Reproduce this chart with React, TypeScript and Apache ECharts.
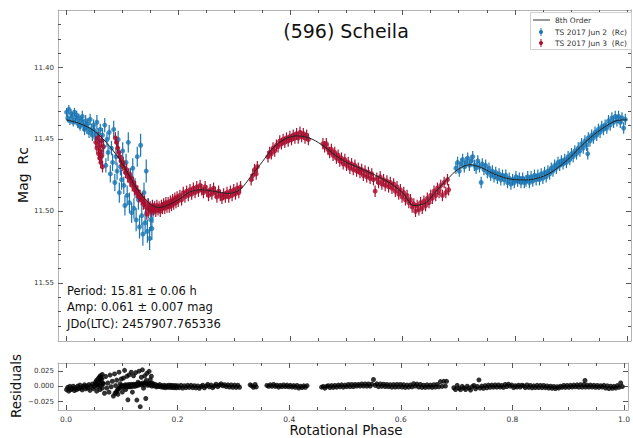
import React, { useEffect, useRef } from "react";
import * as echarts from "echarts";

// Light-curve observations: [rotational phase, magnitude Rc, error]
const jun2: number[][] = [
  [0.001, 11.431, 0.003], [0.003, 11.435, 0.003], [0.005, 11.429, 0.003], [0.007, 11.437, 0.003],
  [0.009, 11.432, 0.003], [0.011, 11.434, 0.003], [0.013, 11.438, 0.003], [0.015, 11.431, 0.003],
  [0.017, 11.436, 0.003], [0.019, 11.433, 0.003], [0.021, 11.439, 0.003], [0.023, 11.435, 0.003],
  [0.025, 11.441, 0.003], [0.027, 11.437, 0.003], [0.029, 11.434, 0.004], [0.031, 11.440, 0.004],
  [0.033, 11.443, 0.004], [0.035, 11.437, 0.004], [0.037, 11.442, 0.004], [0.039, 11.439, 0.004],
  [0.041, 11.445, 0.004], [0.043, 11.436, 0.004], [0.045, 11.443, 0.004], [0.047, 11.447, 0.004],
  [0.049, 11.440, 0.004], [0.051, 11.444, 0.004], [0.053, 11.449, 0.004], [0.055, 11.438, 0.005],
  [0.057, 11.446, 0.004], [0.059, 11.451, 0.005], [0.061, 11.443, 0.004], [0.063, 11.462, 0.005],
  [0.065, 11.447, 0.005], [0.067, 11.455, 0.005], [0.069, 11.440, 0.005], [0.071, 11.468, 0.005],
  [0.073, 11.450, 0.005], [0.075, 11.459, 0.006], [0.077, 11.445, 0.005], [0.079, 11.474, 0.006],
  [0.081, 11.456, 0.005], [0.083, 11.466, 0.006], [0.085, 11.443, 0.006], [0.087, 11.480, 0.006],
  [0.089, 11.462, 0.006], [0.091, 11.472, 0.006], [0.093, 11.450, 0.006], [0.095, 11.487, 0.007],
  [0.097, 11.469, 0.006], [0.099, 11.478, 0.007], [0.101, 11.458, 0.006], [0.103, 11.482, 0.006],
  [0.105, 11.496, 0.007], [0.107, 11.466, 0.006], [0.109, 11.489, 0.007], [0.111, 11.452, 0.007],
  [0.113, 11.494, 0.007], [0.115, 11.476, 0.006], [0.117, 11.501, 0.007], [0.119, 11.470, 0.007],
  [0.121, 11.498, 0.007], [0.123, 11.484, 0.007], [0.125, 11.506, 0.008], [0.127, 11.462, 0.007],
  [0.129, 11.492, 0.007], [0.131, 11.511, 0.008], [0.133, 11.454, 0.008], [0.135, 11.503, 0.007],
  [0.137, 11.516, 0.008], [0.139, 11.487, 0.007], [0.141, 11.508, 0.008], [0.143, 11.472, 0.008],
  [0.145, 11.514, 0.008], [0.147, 11.498, 0.007], [0.149, 11.519, 0.008], [0.151, 11.506, 0.008],
  [0.153, 11.512, 0.008], [0.155, 11.501, 0.007],
  [0.695, 11.470, 0.004], [0.698, 11.466, 0.004], [0.701, 11.472, 0.004], [0.704, 11.467, 0.004],
  [0.707, 11.464, 0.004], [0.710, 11.469, 0.004], [0.713, 11.466, 0.004], [0.716, 11.463, 0.004],
  [0.719, 11.468, 0.004], [0.722, 11.465, 0.004], [0.725, 11.462, 0.004], [0.728, 11.468, 0.004],
  [0.731, 11.470, 0.004], [0.734, 11.465, 0.004], [0.737, 11.469, 0.004], [0.740, 11.480, 0.004],
  [0.742, 11.467, 0.004], [0.745, 11.471, 0.004], [0.748, 11.468, 0.004], [0.751, 11.473, 0.004],
  [0.754, 11.470, 0.004], [0.757, 11.475, 0.004], [0.760, 11.472, 0.004], [0.763, 11.476, 0.004],
  [0.766, 11.473, 0.004], [0.769, 11.477, 0.004], [0.772, 11.474, 0.004], [0.775, 11.478, 0.004],
  [0.778, 11.475, 0.004], [0.781, 11.478, 0.004], [0.784, 11.475, 0.004], [0.787, 11.480, 0.004],
  [0.790, 11.477, 0.004], [0.793, 11.481, 0.004], [0.796, 11.478, 0.004], [0.799, 11.480, 0.004],
  [0.802, 11.476, 0.004], [0.805, 11.479, 0.004], [0.808, 11.477, 0.004], [0.811, 11.480, 0.004],
  [0.814, 11.477, 0.004], [0.817, 11.480, 0.004], [0.820, 11.479, 0.004], [0.823, 11.476, 0.004],
  [0.826, 11.480, 0.004], [0.829, 11.476, 0.004], [0.832, 11.479, 0.004], [0.835, 11.475, 0.004],
  [0.838, 11.478, 0.004], [0.841, 11.475, 0.004], [0.844, 11.478, 0.004], [0.847, 11.474, 0.004],
  [0.850, 11.477, 0.004], [0.853, 11.473, 0.004], [0.856, 11.476, 0.004], [0.859, 11.472, 0.004],
  [0.862, 11.474, 0.004], [0.865, 11.470, 0.004], [0.868, 11.472, 0.004], [0.871, 11.468, 0.004],
  [0.874, 11.470, 0.004], [0.877, 11.466, 0.004], [0.880, 11.468, 0.004], [0.883, 11.465, 0.004],
  [0.886, 11.467, 0.004], [0.889, 11.464, 0.004], [0.892, 11.466, 0.004], [0.895, 11.462, 0.004],
  [0.898, 11.464, 0.004], [0.901, 11.460, 0.004], [0.904, 11.462, 0.004], [0.907, 11.458, 0.004],
  [0.910, 11.460, 0.004], [0.913, 11.456, 0.004], [0.916, 11.458, 0.004], [0.919, 11.453, 0.004],
  [0.922, 11.456, 0.004], [0.925, 11.451, 0.004], [0.928, 11.454, 0.004], [0.930, 11.460, 0.004],
  [0.931, 11.449, 0.004], [0.934, 11.451, 0.004], [0.937, 11.447, 0.004], [0.940, 11.449, 0.004],
  [0.943, 11.445, 0.004], [0.946, 11.447, 0.004], [0.949, 11.443, 0.004], [0.952, 11.445, 0.004],
  [0.955, 11.441, 0.004], [0.958, 11.443, 0.004], [0.961, 11.440, 0.004], [0.964, 11.442, 0.004],
  [0.967, 11.437, 0.004], [0.970, 11.440, 0.004], [0.973, 11.435, 0.004], [0.976, 11.438, 0.004],
  [0.979, 11.434, 0.004], [0.982, 11.437, 0.004], [0.985, 11.434, 0.004], [0.988, 11.438, 0.004],
  [0.991, 11.435, 0.004], [0.994, 11.442, 0.004], [0.997, 11.436, 0.004],
];

const jun3: number[][] = [
  [0.053, 11.452, 0.004], [0.055, 11.456, 0.004], [0.057, 11.449, 0.004], [0.058, 11.460, 0.004],
  [0.059, 11.454, 0.004], [0.060, 11.463, 0.004], [0.061, 11.458, 0.004], [0.062, 11.466, 0.004],
  [0.063, 11.451, 0.004], [0.064, 11.461, 0.004], [0.065, 11.469, 0.004], [0.066, 11.455, 0.004],
  [0.088, 11.449, 0.004], [0.090, 11.452, 0.004], [0.092, 11.456, 0.004], [0.094, 11.459, 0.004],
  [0.096, 11.462, 0.004], [0.098, 11.465, 0.004], [0.100, 11.468, 0.004], [0.102, 11.466, 0.004],
  [0.104, 11.470, 0.004], [0.106, 11.473, 0.004], [0.108, 11.471, 0.004], [0.110, 11.476, 0.004],
  [0.112, 11.474, 0.004], [0.114, 11.479, 0.004], [0.116, 11.477, 0.004], [0.118, 11.482, 0.004],
  [0.120, 11.480, 0.004], [0.122, 11.485, 0.004], [0.124, 11.483, 0.004], [0.126, 11.487, 0.004],
  [0.128, 11.486, 0.004], [0.130, 11.490, 0.004], [0.132, 11.489, 0.004], [0.134, 11.492, 0.004],
  [0.136, 11.491, 0.004], [0.138, 11.495, 0.004], [0.140, 11.493, 0.004], [0.142, 11.497, 0.004],
  [0.144, 11.502, 0.004], [0.146, 11.495, 0.004], [0.148, 11.499, 0.004], [0.150, 11.497, 0.004],
  [0.152, 11.500, 0.004], [0.154, 11.496, 0.004], [0.156, 11.499, 0.004], [0.158, 11.497, 0.004],
  [0.160, 11.500, 0.004], [0.162, 11.496, 0.004], [0.164, 11.499, 0.004], [0.166, 11.497, 0.004],
  [0.168, 11.500, 0.004], [0.170, 11.496, 0.004], [0.172, 11.498, 0.004], [0.174, 11.495, 0.004],
  [0.176, 11.498, 0.004], [0.178, 11.494, 0.004], [0.180, 11.497, 0.004], [0.182, 11.494, 0.004],
  [0.184, 11.497, 0.004], [0.186, 11.493, 0.004], [0.188, 11.496, 0.004], [0.190, 11.492, 0.004],
  [0.192, 11.495, 0.004], [0.194, 11.491, 0.004], [0.196, 11.494, 0.004], [0.198, 11.490, 0.004],
  [0.200, 11.493, 0.004], [0.203, 11.489, 0.004], [0.206, 11.492, 0.004], [0.209, 11.487, 0.004],
  [0.212, 11.490, 0.004], [0.215, 11.486, 0.004], [0.218, 11.489, 0.004], [0.221, 11.485, 0.004],
  [0.224, 11.488, 0.004], [0.227, 11.484, 0.004], [0.230, 11.487, 0.004], [0.233, 11.483, 0.004],
  [0.236, 11.486, 0.004], [0.239, 11.482, 0.004], [0.242, 11.485, 0.004], [0.245, 11.487, 0.004],
  [0.248, 11.483, 0.004], [0.251, 11.486, 0.004], [0.254, 11.489, 0.004], [0.257, 11.485, 0.004],
  [0.260, 11.488, 0.004], [0.263, 11.484, 0.004], [0.266, 11.487, 0.004], [0.269, 11.490, 0.004],
  [0.272, 11.486, 0.004], [0.275, 11.489, 0.004], [0.278, 11.491, 0.004], [0.281, 11.488, 0.004],
  [0.284, 11.490, 0.004], [0.287, 11.487, 0.004], [0.290, 11.490, 0.004], [0.293, 11.486, 0.004],
  [0.296, 11.489, 0.004], [0.299, 11.485, 0.004], [0.302, 11.488, 0.004], [0.305, 11.484, 0.004],
  [0.308, 11.487, 0.004], [0.311, 11.483, 0.004],
  [0.330, 11.478, 0.004], [0.333, 11.475, 0.004], [0.336, 11.471, 0.004], [0.339, 11.474, 0.004],
  [0.341, 11.469, 0.004],
  [0.360, 11.462, 0.004], [0.363, 11.459, 0.004], [0.366, 11.460, 0.004], [0.369, 11.456, 0.004],
  [0.372, 11.458, 0.004], [0.375, 11.454, 0.004], [0.378, 11.455, 0.004], [0.381, 11.451, 0.004],
  [0.384, 11.453, 0.004], [0.387, 11.450, 0.004], [0.390, 11.452, 0.004], [0.393, 11.449, 0.004],
  [0.396, 11.451, 0.004], [0.399, 11.448, 0.004], [0.402, 11.450, 0.004], [0.405, 11.447, 0.004],
  [0.408, 11.449, 0.004], [0.411, 11.446, 0.004], [0.414, 11.449, 0.004], [0.417, 11.445, 0.004],
  [0.420, 11.448, 0.004], [0.423, 11.446, 0.004], [0.426, 11.449, 0.004], [0.429, 11.447, 0.004],
  [0.432, 11.450, 0.004],
  [0.458, 11.453, 0.004], [0.461, 11.455, 0.004], [0.464, 11.453, 0.004], [0.467, 11.457, 0.004],
  [0.470, 11.459, 0.004], [0.473, 11.457, 0.004], [0.476, 11.461, 0.004], [0.479, 11.459, 0.004],
  [0.482, 11.463, 0.004], [0.485, 11.461, 0.004], [0.488, 11.465, 0.004], [0.491, 11.463, 0.004],
  [0.494, 11.467, 0.004], [0.497, 11.464, 0.004], [0.500, 11.468, 0.004], [0.503, 11.466, 0.004],
  [0.506, 11.470, 0.004], [0.509, 11.467, 0.004], [0.512, 11.471, 0.004], [0.515, 11.468, 0.004],
  [0.518, 11.472, 0.004], [0.521, 11.470, 0.004], [0.524, 11.473, 0.004], [0.527, 11.471, 0.004],
  [0.530, 11.475, 0.004], [0.533, 11.472, 0.004], [0.536, 11.476, 0.004], [0.539, 11.473, 0.004],
  [0.542, 11.477, 0.004], [0.545, 11.474, 0.004], [0.548, 11.478, 0.004], [0.551, 11.486, 0.004],
  [0.554, 11.477, 0.004], [0.557, 11.480, 0.004], [0.560, 11.476, 0.004], [0.563, 11.481, 0.004],
  [0.566, 11.478, 0.004], [0.569, 11.482, 0.004], [0.572, 11.479, 0.004], [0.575, 11.483, 0.004],
  [0.578, 11.480, 0.004], [0.581, 11.484, 0.004], [0.584, 11.481, 0.004], [0.587, 11.486, 0.004],
  [0.590, 11.483, 0.004], [0.593, 11.488, 0.004], [0.596, 11.485, 0.004], [0.599, 11.490, 0.004],
  [0.602, 11.487, 0.004], [0.605, 11.492, 0.004], [0.608, 11.489, 0.004], [0.611, 11.494, 0.004],
  [0.614, 11.492, 0.004], [0.617, 11.497, 0.004], [0.620, 11.495, 0.004], [0.623, 11.500, 0.004],
  [0.626, 11.496, 0.004], [0.629, 11.499, 0.004], [0.632, 11.494, 0.004], [0.635, 11.498, 0.004],
  [0.638, 11.493, 0.004], [0.641, 11.496, 0.004], [0.644, 11.491, 0.004], [0.647, 11.494, 0.004],
  [0.650, 11.489, 0.004], [0.653, 11.491, 0.004], [0.656, 11.486, 0.004], [0.659, 11.489, 0.004],
  [0.662, 11.484, 0.004], [0.665, 11.487, 0.004], [0.668, 11.482, 0.004], [0.671, 11.489, 0.004],
  [0.674, 11.480, 0.004], [0.677, 11.487, 0.004], [0.680, 11.478, 0.004], [0.682, 11.485, 0.004],
];

// 8th-order Fourier fit sampled along phase
const fitPhase = [
  0, 0.025, 0.05, 0.075, 0.1, 0.125, 0.15, 0.165, 0.18, 0.2, 0.22, 0.24, 0.265, 0.29, 0.31, 0.33,
  0.35, 0.37, 0.39, 0.41, 0.425, 0.44, 0.46, 0.48, 0.5, 0.52, 0.54, 0.56, 0.58, 0.6, 0.62, 0.64,
  0.66, 0.68, 0.7, 0.72, 0.74, 0.76, 0.78, 0.8, 0.82, 0.84, 0.86, 0.88, 0.9, 0.92, 0.94, 0.96, 0.98, 1.0,
];
const fitMag = [
  11.4363, 11.439, 11.444, 11.4535, 11.4665, 11.4835, 11.495, 11.4975, 11.496, 11.492, 11.4868,
  11.485, 11.4862, 11.4876, 11.485, 11.4755, 11.4655, 11.4555, 11.4497, 11.4475, 11.448, 11.45,
  11.4548, 11.461, 11.466, 11.4693, 11.4728, 11.4765, 11.481, 11.4872, 11.496, 11.4945, 11.486,
  11.4775, 11.4705, 11.4676, 11.4695, 11.4735, 11.4765, 11.478, 11.4782, 11.477, 11.474, 11.4687,
  11.462, 11.454, 11.447, 11.4413, 11.437, 11.4363,
];

const phaseMajor = [0, 0.2, 0.4, 0.6, 0.8, 1.0];
const phaseMinor = [0.05, 0.1, 0.15, 0.25, 0.3, 0.35, 0.45, 0.5, 0.55, 0.65, 0.7, 0.75, 0.85, 0.9, 0.95];
const magMajor = [11.4, 11.45, 11.5, 11.55];
const magMinor = [
  11.37, 11.38, 11.39, 11.41, 11.42, 11.43, 11.44, 11.46, 11.47, 11.48, 11.49, 11.51, 11.52, 11.53,
  11.54, 11.56, 11.57, 11.58,
];
const residMajor = [-0.025, 0, 0.025];

const BLUE = "#1a76b3";
const RED = "#a80f2e";
const FRAME = "#b3b3b3";
const TICK = "#555";
const FONT = "DejaVu Sans";

const X_MIN = -0.0143;
const X_MAX = 1.0071;
const MAG_MIN = 11.3598;
const MAG_MAX = 11.5904;
const RES_MIN = -0.0386;
const RES_MAX = 0.0381;

// fit value at a phase (linear between samples), used for observed minus computed
function fitAt(p: number): number {
  for (let i = 1; i < fitPhase.length; i++) {
    if (p <= fitPhase[i]) {
      const t = (p - fitPhase[i - 1]) / (fitPhase[i] - fitPhase[i - 1]);
      return fitMag[i - 1] + t * (fitMag[i] - fitMag[i - 1]);
    }
  }
  return fitMag[fitMag.length - 1];
}

const residuals = [...jun2, ...jun3].map((d) => [d[0], d[1] - fitAt(d[0])]);

function xAxis(grid: number, position: string, values: number[], len: number, major: boolean, labels: boolean) {
  return {
    type: "value",
    gridIndex: grid,
    position,
    min: X_MIN,
    max: X_MAX,
    axisLine: { show: major, onZero: false, lineStyle: { color: FRAME, width: 1 } },
    axisTick: { show: true, inside: true, length: len, customValues: values, lineStyle: { color: TICK, width: 1 } },
    axisLabel: {
      show: labels,
      customValues: values,
      margin: 5,
      fontSize: 7.5,
      fontFamily: FONT,
      color: "#333",
      formatter: (v: number) => v.toFixed(1),
    },
    splitLine: { show: false },
  };
}

function yAxis(
  grid: number,
  position: string,
  min: number,
  max: number,
  inverse: boolean,
  values: number[],
  len: number,
  major: boolean,
  labels: boolean,
  fmt: (v: number) => string
) {
  return {
    type: "value",
    gridIndex: grid,
    position,
    min,
    max,
    inverse,
    axisLine: { show: major, onZero: false, lineStyle: { color: FRAME, width: 1 } },
    axisTick: { show: true, inside: true, length: len, customValues: values, lineStyle: { color: TICK, width: 1 } },
    axisLabel: {
      show: labels,
      customValues: values,
      margin: 4,
      fontSize: 7,
      fontFamily: FONT,
      color: "#333",
      formatter: fmt,
    },
    splitLine: { show: false },
  };
}

const magFmt = (v: number) => v.toFixed(2);
const resFmt = (v: number) => (Math.abs(v) < 1e-9 ? "0.000" : v < 0 ? "\u2212" + Math.abs(v).toFixed(3) : v.toFixed(3));

function errorBars(color: string) {
  return (params: any, api: any) => {
    const x = api.value(0);
    const y = api.value(1);
    const e = api.value(2);
    const a = api.coord([x, y - e]);
    const b = api.coord([x, y + e]);
    return {
      type: "line",
      shape: { x1: a[0], y1: a[1], x2: b[0], y2: b[1] },
      style: { stroke: color, lineWidth: 1.2 },
    };
  };
}

function txt(text: string, x: number, y: number, size: number, align: string, rotation = 0, color = "#111") {
  return {
    type: "text",
    x,
    y,
    rotation,
    style: {
      text,
      fill: color,
      fontSize: size,
      fontFamily: FONT,
      textAlign: align,
      align,
      textVerticalAlign: "middle",
      verticalAlign: "middle",
    },
    z: 100,
  };
}

const option = {
  animation: false,
  backgroundColor: "#fff",
  grid: [
    { left: 58, top: 10, width: 573, height: 331, containLabel: false },
    { left: 58, top: 363, width: 573, height: 47, containLabel: false },
  ],
  xAxis: [
    xAxis(0, "bottom", phaseMajor, 5, true, false),
    xAxis(0, "bottom", phaseMinor, 3, false, false),
    xAxis(0, "top", phaseMajor, 5, true, false),
    xAxis(0, "top", phaseMinor, 3, false, false),
    xAxis(1, "bottom", phaseMajor, 5, true, true),
    xAxis(1, "bottom", phaseMinor, 3, false, false),
    xAxis(1, "top", phaseMajor, 5, true, false),
    xAxis(1, "top", phaseMinor, 3, false, false),
  ],
  yAxis: [
    yAxis(0, "left", MAG_MIN, MAG_MAX, true, magMajor, 5, true, true, magFmt),
    yAxis(0, "left", MAG_MIN, MAG_MAX, true, magMinor, 3, false, false, magFmt),
    yAxis(0, "right", MAG_MIN, MAG_MAX, true, magMajor, 5, true, false, magFmt),
    yAxis(0, "right", MAG_MIN, MAG_MAX, true, magMinor, 3, false, false, magFmt),
    yAxis(1, "left", RES_MIN, RES_MAX, false, residMajor, 5, true, true, resFmt),
    yAxis(1, "right", RES_MIN, RES_MAX, false, residMajor, 5, true, false, resFmt),
  ],
  series: [
    {
      type: "custom",
      name: "TS 2017 Jun 2  (Rc) err",
      xAxisIndex: 0,
      yAxisIndex: 0,
      data: jun2,
      encode: { x: 0, y: 1 },
      renderItem: errorBars(BLUE),
      clip: true,
      silent: true,
      z: 2,
    },
    {
      type: "scatter",
      name: "TS 2017 Jun 2  (Rc)",
      xAxisIndex: 0,
      yAxisIndex: 0,
      data: jun2.map((d) => [d[0], d[1]]),
      symbol: "circle",
      symbolSize: 5,
      itemStyle: { color: BLUE },
      silent: true,
      z: 3,
    },
    {
      type: "custom",
      name: "TS 2017 Jun 3  (Rc) err",
      xAxisIndex: 0,
      yAxisIndex: 0,
      data: jun3,
      encode: { x: 0, y: 1 },
      renderItem: errorBars(RED),
      clip: true,
      silent: true,
      z: 4,
    },
    {
      type: "scatter",
      name: "TS 2017 Jun 3  (Rc)",
      xAxisIndex: 0,
      yAxisIndex: 0,
      data: jun3.map((d) => [d[0], d[1]]),
      symbol: "circle",
      symbolSize: 5,
      itemStyle: { color: RED },
      silent: true,
      z: 5,
    },
    {
      type: "line",
      name: "8th Order",
      xAxisIndex: 0,
      yAxisIndex: 0,
      data: fitPhase.map((p, i) => [p, fitMag[i]]),
      smooth: 0.3,
      showSymbol: false,
      lineStyle: { color: "#222", width: 1 },
      silent: true,
      z: 10,
    },
    {
      type: "scatter",
      name: "Residuals",
      xAxisIndex: 4,
      yAxisIndex: 4,
      data: residuals,
      symbol: "circle",
      symbolSize: 5,
      itemStyle: { color: "#000" },
      silent: true,
      z: 5,
    },
  ],
  graphic: [
    txt("(596) Scheila", 346, 31, 19, "center"),
    txt("Period: 15.81 \u00b1 0.06 h", 67, 291, 11.5, "left"),
    txt("Amp: 0.061 \u00b1 0.007 mag", 67, 307, 11.5, "left"),
    txt("JDo(LTC): 2457907.765336", 67, 324, 11.5, "left"),
    txt("Mag  Rc", 23, 175, 14, "center", Math.PI / 2),
    txt("Residuals", 16, 386, 13.5, "center", Math.PI / 2),
    txt("Rotational Phase", 346, 430, 13.5, "center"),
    // legend box
    {
      type: "rect",
      shape: { x: 530.5, y: 12.5, width: 101, height: 37 },
      style: { fill: "#fff", stroke: "#d0d0d0", lineWidth: 1 },
      z: 90,
    },
    { type: "line", shape: { x1: 533, y1: 20, x2: 550, y2: 20 }, style: { stroke: "#333", lineWidth: 1 }, z: 95 },
    { type: "line", shape: { x1: 541, y1: 28, x2: 541, y2: 36 }, style: { stroke: BLUE, lineWidth: 1 }, z: 95 },
    { type: "circle", shape: { cx: 541, cy: 32, r: 2 }, style: { fill: BLUE }, z: 95 },
    { type: "line", shape: { x1: 541, y1: 39, x2: 541, y2: 47 }, style: { stroke: RED, lineWidth: 1 }, z: 95 },
    { type: "circle", shape: { cx: 541, cy: 43, r: 2 }, style: { fill: RED }, z: 95 },
    txt("8th Order", 555, 20, 7.5, "left", 0, "#333"),
    txt("TS 2017 Jun 2  (Rc)", 555, 32, 7.5, "left", 0, "#333"),
    txt("TS 2017 Jun 3  (Rc)", 555, 43, 7.5, "left", 0, "#333"),
  ],
};

export default function App() {
  const ref = useRef<HTMLDivElement>(null);
  useEffect(() => {
    if (!ref.current) return;
    const chart = echarts.init(ref.current, null, { renderer: "svg" });
    chart.setOption(option as any);
    return () => chart.dispose();
  }, []);
  return (
    <div
      ref={ref}
      style={{ position: "absolute", left: 0, top: 0, width: 633, height: 438, background: "#fff" }}
    />
  );
}
